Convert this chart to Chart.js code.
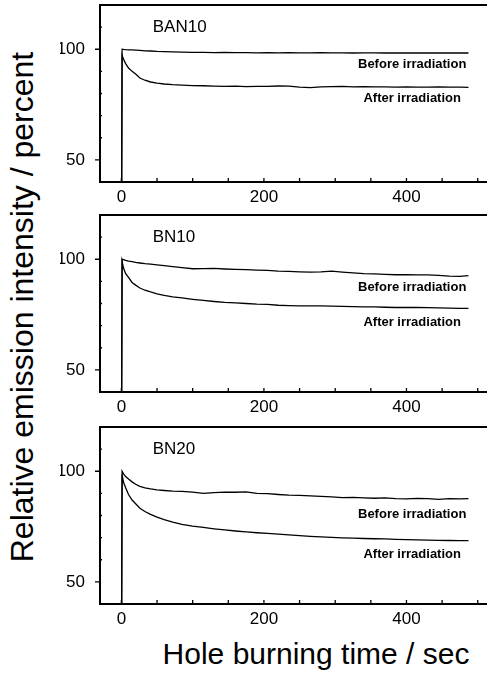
<!DOCTYPE html>
<html>
<head>
<meta charset="utf-8">
<script src="https://cdn.jsdelivr.net/npm/chart.js@4.4.1/dist/chart.umd.min.js"></script>
<style>
  html, body { margin: 0; padding: 0; background: #fff; }
  body { width: 487px; height: 675px; overflow: hidden; position: relative; font-family: "Liberation Sans", Arial, sans-serif; color: #000; }
  .panel { position: absolute; left: 60px; }
  #ytitle { position: absolute; left: -278px; top: 289px; width: 600px; line-height: 36px; font-size: 32px; text-align: center; transform: rotate(-90deg); white-space: nowrap; }
  #xtitle { position: absolute; left: 116px; top: 637px; width: 400px; line-height: 34px; font-size: 30px; text-align: center; white-space: nowrap; }
</style>
</head>
<body>
<div class="panel" style="top:3px"><canvas id="c0" width="432" height="209"></canvas></div>
<div class="panel" style="top:213px"><canvas id="c1" width="432" height="209"></canvas></div>
<div class="panel" style="top:425px"><canvas id="c2" width="432" height="209"></canvas></div>
<div id="ytitle">Relative emission intensity / percent</div>
<div id="xtitle">Hole burning time / sec</div>
<script>
// burning time (sec), shared by every trace
const timeSec = [0, 1, 3, 6, 10, 15, 20, 26, 33, 41, 50, 60, 72, 85, 100, 115, 130, 145, 160, 175,
  190, 205, 220, 235, 250, 265, 280, 295, 310, 325, 340, 355, 370, 385, 400, 415, 430, 445, 460, 475, 487]

const samples = ['BAN10', 'BN10', 'BN20']

// relative intensity (%) before irradiation
const beforeBAN10 = [0, 100, 99.9, 99.8, 99.7, 99.7, 99.6, 99.5, 99.3, 99.2, 99.0, 98.9, 98.8, 98.7, 98.6,
  98.6, 98.5, 98.6, 98.5, 98.5, 98.4, 98.5, 98.4, 98.5, 98.4, 98.4, 98.5, 98.4, 98.4, 98.3,
  98.4, 98.4, 98.3, 98.4, 98.3, 98.4, 98.3, 98.3, 98.4, 98.3, 98.3]
const beforeBN10 = [0, 100, 99.8, 99.5, 99.2, 98.9, 98.6, 98.3, 98.0, 97.8, 97.5, 97.1, 96.7, 96.2, 95.7,
  95.8, 95.9, 95.6, 95.4, 95.3, 95.1, 95.0, 94.6, 94.5, 94.3, 94.2, 94.3, 94.6, 94.2, 93.8,
  93.5, 93.4, 93.2, 93.0, 93.0, 92.9, 92.9, 92.7, 92.4, 92.3, 92.6]
const beforeBN20 = [0, 100, 98.8, 97.6, 96.5, 95.2, 94.1, 93.2, 92.5, 92.0, 91.6, 91.3, 91.0, 90.9, 90.6,
  90.0, 90.3, 90.6, 90.5, 90.7, 90.0, 89.9, 89.5, 89.2, 89.1, 88.9, 88.6, 88.4, 88.1, 88.2,
  88.0, 87.8, 88.0, 87.6, 87.5, 87.7, 87.6, 87.3, 87.6, 87.5, 87.6]

// relative intensity (%) after irradiation
const afterBAN10 = [0, 97.2, 95.5, 93.5, 91.5, 90.0, 88.8, 87.0, 86.0, 85.2, 84.7, 84.3, 84.0, 83.8, 83.6,
  83.5, 83.3, 83.2, 83.3, 83.1, 83.2, 83.2, 83.4, 83.3, 82.9, 82.7, 83.0, 83.1, 83.2, 83.0,
  83.1, 83.0, 83.0, 82.9, 83.0, 82.9, 82.9, 83.0, 82.9, 82.9, 82.8]
const afterBN10 = [0, 99.0, 96.0, 93.5, 91.8, 89.5, 88.3, 87.0, 86.0, 85.2, 84.4, 83.7, 83.0, 82.5, 81.9,
  81.4, 80.9, 80.5, 80.3, 80.0, 79.7, 79.6, 79.2, 79.0, 78.9, 78.9, 78.9, 78.8, 78.7, 78.6,
  78.5, 78.5, 78.3, 78.2, 78.2, 78.2, 78.1, 78.0, 77.9, 77.8, 77.8]
const afterBN20 = [0, 98.5, 95.0, 92.5, 89.5, 87.0, 85.3, 83.3, 81.8, 80.5, 79.3, 78.1, 77.0, 76.0, 75.2,
  74.6, 74.0, 73.5, 73.0, 72.6, 72.2, 71.9, 71.6, 71.2, 70.9, 70.6, 70.3, 70.1, 69.9, 69.8,
  69.6, 69.5, 69.4, 69.2, 69.1, 69.0, 68.9, 68.8, 68.7, 68.6, 68.6]

const beforeSeries = [beforeBAN10, beforeBN10, beforeBN20]
const afterSeries = [afterBAN10, afterBN10, afterBN20]

// ticks
const xTickMarks = [0, 50, 100, 150, 200, 250, 300, 350, 400, 450, 500]
const xTickLabels = [0, 200, 400]
const yTickLabels = [50, 100]
const yMinorMarks = [60, 70, 80, 90, 110]

// where the curve captions sit, in data units (x, y) per panel
const nameAt = [[44, 110], [44, 110], [44, 110]]
const beforeTextAt = [[408, 93.3], [408, 87.4], [408, 80.7]]
const afterTextAt = [[408, 77.9], [408, 71.5], [408, 62.4]]

const FONT = '"Liberation Sans", Arial, sans-serif'

// frame: top border, inward x ticks, y minor ticks, captions
const framePlugin = {
  id: 'frame',
  afterDraw(chart) {
    const { ctx, chartArea: a, scales: { x, y } } = chart
    const i = chart.options.plugins.frame.panel
    ctx.save()
    ctx.strokeStyle = '#000'
    ctx.lineWidth = 2
    ctx.beginPath()
    ctx.moveTo(a.left - 1, a.top)
    ctx.lineTo(a.right, a.top)
    ctx.stroke()

    ctx.lineWidth = 1.3
    ctx.beginPath()
    xTickMarks.forEach(v => {
      const px = x.getPixelForValue(v)
      ctx.moveTo(px, a.bottom)
      ctx.lineTo(px, a.bottom - 4)
    })
    yTickLabels.forEach(v => {
      const py = y.getPixelForValue(v)
      ctx.moveTo(a.left, py)
      ctx.lineTo(a.left - 5, py)
    })
    yMinorMarks.forEach(v => {
      const py = y.getPixelForValue(v)
      ctx.moveTo(a.left, py)
      ctx.lineTo(a.left + 2, py)
    })
    ctx.stroke()

    ctx.fillStyle = '#000'
    ctx.textBaseline = 'middle'
    ctx.font = '17px ' + FONT
    ctx.textAlign = 'left'
    ctx.fillText(samples[i], x.getPixelForValue(nameAt[i][0]), y.getPixelForValue(nameAt[i][1]))

    ctx.font = 'bold 13px ' + FONT
    ctx.textAlign = 'center'
    ctx.fillText('Before irradiation', x.getPixelForValue(beforeTextAt[i][0]), y.getPixelForValue(beforeTextAt[i][1]))
    ctx.fillText('After irradiation', x.getPixelForValue(afterTextAt[i][0]), y.getPixelForValue(afterTextAt[i][1]))
    ctx.restore()
  }
}

const makePoints = (vals) => timeSec.map((t, k) => ({ x: t, y: vals[k] }))

const dibujaPanel = (i) => {
  new Chart(document.getElementById('c' + i), {
    type: 'line',
    data: {
      datasets: [
        { label: 'Before irradiation', data: makePoints(beforeSeries[i]) },
        { label: 'After irradiation', data: makePoints(afterSeries[i]) }
      ]
    },
    options: {
      responsive: false,
      animation: false,
      events: [],
      layout: { padding: { top: 2, left: 0, right: 0, bottom: 0 } },
      elements: {
        point: { radius: 0 },
        line: { borderColor: '#000', borderWidth: 1.3, tension: 0 }
      },
      plugins: {
        legend: { display: false },
        tooltip: { enabled: false },
        frame: { panel: i }
      },
      scales: {
        x: {
          type: 'linear', min: -30, max: 520,
          afterBuildTicks: s => { s.ticks = xTickMarks.map(v => ({ value: v })) },
          afterFit: s => { s.height = 30; s.paddingLeft = 0; s.paddingRight = 0 },
          grid: { display: false },
          border: { color: '#000', width: 2 },
          ticks: {
            color: '#000', padding: -3, maxRotation: 0, autoSkip: false,
            font: { family: FONT, size: 17 },
            callback: v => xTickLabels.includes(v) ? String(v) : ''
          }
        },
        y: {
          min: 40, max: 120,
          afterBuildTicks: s => { s.ticks = yTickLabels.map(v => ({ value: v })) },
          afterFit: s => { s.width = 40; s.paddingTop = 0; s.paddingBottom = 0 },
          grid: { display: false },
          border: { color: '#000', width: 2 },
          ticks: {
            color: '#000', padding: 7,
            font: { family: FONT, size: 17 }
          }
        }
      }
    },
    plugins: [framePlugin]
  })
}

samples.forEach((s, i) => dibujaPanel(i))
</script>
</body>
</html>
